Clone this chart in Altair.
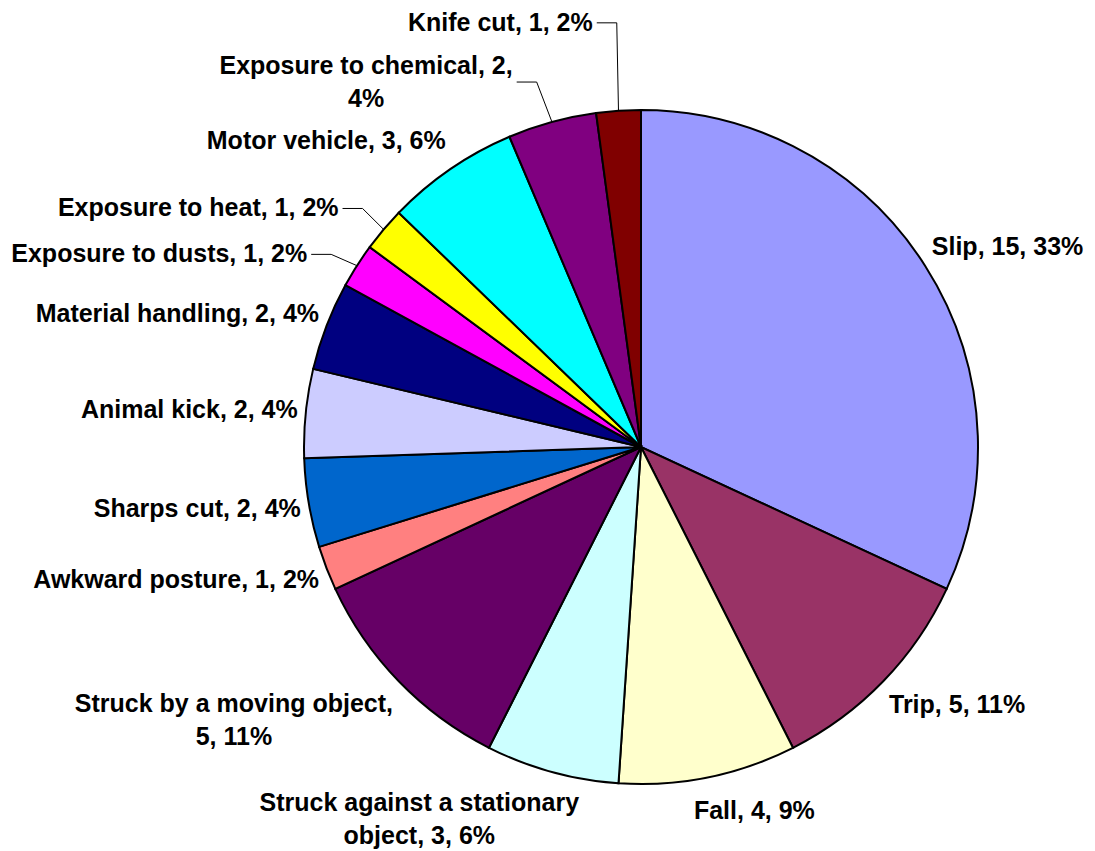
import altair as alt
import pandas as pd

# ---- data ----
categories = [
    "Slip", "Trip", "Fall", "Struck against a stationary object",
    "Struck by a moving object", "Awkward posture", "Sharps cut", "Animal kick",
    "Material handling", "Exposure to dusts", "Exposure to heat", "Motor vehicle",
    "Exposure to chemical", "Knife cut",
]
counts = [15, 5, 4, 3, 5, 1, 2, 2, 2, 1, 1, 3, 2, 1]
percents = [33, 11, 9, 6, 11, 2, 4, 4, 4, 2, 2, 6, 4, 2]

# ---- styling ----
colors = [
    "#9999FF", "#993366", "#FFFFCC", "#CCFFFF", "#660066", "#FF8080", "#0066CC",
    "#CCCCFF", "#000080", "#FF00FF", "#FFFF00", "#00FFFF", "#800080", "#800000",
]
FS = 25
LINE_H = 33
CX, CY = 633, 439      # pie centre in the view
R = 337                # pie radius
RL = 345               # label anchor radius

# Arial-bold advance widths (em) to estimate label widths / wrapping
AB = {" ": .278, ",": .278, ".": .278, "%": .889, "a": .556, "b": .611, "c": .556,
      "d": .611, "e": .556, "f": .333, "g": .611, "h": .611, "i": .278, "j": .278,
      "k": .556, "l": .278, "m": .889, "n": .611, "o": .611, "p": .611, "q": .611,
      "r": .389, "s": .556, "t": .333, "u": .611, "v": .556, "w": .778, "x": .556,
      "y": .556, "z": .5, "A": .722, "E": .667, "F": .611, "K": .722, "M": .833,
      "S": .667, "T": .611}


def text_em(s):
    return sum(AB.get(ch, .556) for ch in s)


def wrap(s, max_em=13.0):
    words, lines, cur = s.split(" "), [], ""
    for w in words:
        cand = w if not cur else cur + " " + w
        if cur and text_em(cand) > max_em:
            lines.append(cur)
            cur = w
        else:
            cur = cand
    lines.append(cur)
    return "\n".join(lines)


labels = [wrap(f"{c}, {n}, {p}%") for c, n, p in zip(categories, counts, percents)]

# labels pushed away from their slice (drawn with a leader line)
moved = {"Exposure to dusts": (-43, 7), "Exposure to heat": (-39, 1),
         "Exposure to chemical": (-64, 8), "Knife cut": (-64, -54)}

df = pd.DataFrame({
    "idx": list(range(len(categories))),
    "category": categories,
    "value": counts,
    "label": labels,
    "nl": [l.count("\n") + 1 for l in labels],
    "w1": [round(text_em(l.split("\n")[0]) * FS, 1) for l in labels],
    "ndx": [moved.get(c, (0, 0))[0] for c in categories],
    "ndy": [moved.get(c, (0, 0))[1] for c in categories],
    "lead": [c in moved for c in categories],
})

arc = alt.Chart(df).mark_arc(outerRadius=R, stroke="black", strokeWidth=2).encode(
    theta=alt.Theta("value:Q", stack=True),
    order=alt.Order("idx:Q", sort="ascending"),
    color=alt.Color("category:N", scale=alt.Scale(domain=categories, range=colors), legend=None),
    x=alt.value(CX),
    y=alt.value(CY),
)

base = (
    alt.Chart(df)
    .transform_window(cum="sum(value)", sort=[{"field": "idx", "order": "ascending"}], frame=[None, 0])
    .transform_joinaggregate(total="sum(value)")
    .transform_calculate(a="2*PI*(datum.cum - datum.value/2)/datum.total")
    .transform_calculate(s="sin(datum.a)", c="cos(datum.a)")
    .transform_calculate(
        sg="datum.s >= 0 ? 1 : -1",
        f="min(1, 0.5 + 1.2*abs(datum.s))",
        ax=f"{CX} + {RL}*datum.s",
        ay=f"{CY} - ({RL} + (datum.nl > 1 ? 38 + 14*abs(datum.s) : 26))*datum.c",
    )
    .transform_calculate(
        tx="(datum.nl > 1 ? datum.ax + datum.sg*datum.f*datum.w1/2 : datum.ax - datum.sg*(1 - datum.f)*datum.w1/2) + datum.ndx",
        ty="datum.ay + datum.ndy",
        ex=f"{CX} + {R}*datum.s",
        ey=f"{CY} - {R}*datum.c",
    )
    # first-line position so that a multi-line block is centred on ty
    .transform_calculate(ty1=f"datum.ty - (datum.nl - 1)*{LINE_H}/2")
    .transform_calculate(lx0="(datum.nl > 1 ? datum.tx + datum.w1/2 : datum.tx) + 4")
    .transform_calculate(lx1="datum.lx0 + 20")
)

txt_kw = dict(font="Liberation Sans", fontSize=FS, fontWeight="bold", color="black",
              lineBreak="\n", lineHeight=LINE_H, baseline="middle")
enc = dict(x=alt.X("tx:Q", scale=None, axis=None), y=alt.Y("ty1:Q", scale=None, axis=None),
           text=alt.Text("label:N"))

right_side = base.transform_filter("datum.nl == 1 && datum.s >= 0").mark_text(align="left", **txt_kw).encode(**enc)
left_side = base.transform_filter("datum.nl == 1 && datum.s < 0").mark_text(align="right", **txt_kw).encode(**enc)
multi = base.transform_filter("datum.nl > 1").mark_text(align="center", **txt_kw).encode(**enc)

lead1 = base.transform_filter("datum.lead").mark_rule(color="black", strokeWidth=1).encode(
    x=alt.X("lx0:Q", scale=None, axis=None), x2="lx1:Q",
    y=alt.Y("ty:Q", scale=None, axis=None), y2="ty:Q",
)
lead2 = base.transform_filter("datum.lead").mark_rule(color="black", strokeWidth=1).encode(
    x=alt.X("lx1:Q", scale=None, axis=None), x2="ex:Q",
    y=alt.Y("ty:Q", scale=None, axis=None), y2="ey:Q",
)

chart = (
    alt.layer(lead1, lead2, arc, right_side, left_side, multi)
    .properties(width=1079, height=843, autosize=alt.AutoSizeParams(type="none"),
                padding=0, background="white")
    .configure_view(stroke=None)
)

chart.save("out.html", embed_options={"renderer": "svg", "actions": False})
